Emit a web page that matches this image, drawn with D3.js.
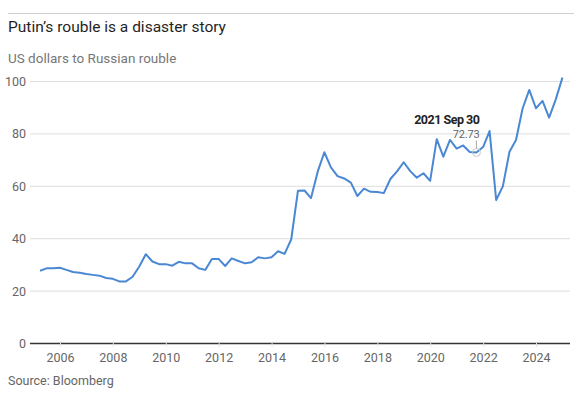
<!DOCTYPE html>
<html>
<head>
<meta charset="utf-8">
<title>Putin's rouble is a disaster story</title>
<style>
  body { margin: 0; background: #fff; }
  svg { display: block; }
  .title { font-family: Roboto, "Liberation Sans", sans-serif; font-size: 15.5px; fill: #1f1f1f; }
  .subtitle { font-family: Roboto, "Liberation Sans", sans-serif; font-size: 13.5px; fill: #777; }
  .tick text { font-family: Roboto, sans-serif; font-size: 12.5px; fill: #666; }
  .source { font-family: Roboto, "Liberation Sans", sans-serif; font-size: 12.5px; fill: #666; }
</style>
</head>
<body>
<script src="https://cdn.jsdelivr.net/npm/d3@7"></script>
<script>

// quarter-end USD/RUB, one row per year (Mar, Jun, Sep, Dec)
var years = [2005, 2006, 2007, 2008, 2009, 2010, 2011, 2012, 2013, 2014,
             2015, 2016, 2017, 2018, 2019, 2020, 2021, 2022, 2023, 2024];
var rates = [
  [27.6, 28.5, 28.5, 28.7],
  [27.9, 27.1, 26.8, 26.3],
  [26.0, 25.7, 24.8, 24.5],
  [23.5, 23.5, 25.3, 29.2],
  [33.9, 31.1, 30.1, 30.1],
  [29.5, 31.0, 30.4, 30.4],
  [28.5, 27.9, 32.1, 32.1],
  [29.4, 32.3, 31.3, 30.4],
  [30.8, 32.7, 32.3, 32.7],
  [35.0, 34.0, 39.6, 58.1],
  [58.2, 55.3, 65.4, 72.8],
  [67.0, 63.7, 62.8, 61.2],
  [56.1, 58.9, 57.7, 57.6],
  [57.2, 62.6, 65.5, 69.0],
  [65.6, 63.1, 64.8, 61.9],
  [77.8, 71.1, 77.5, 74.2],
  [75.4, 72.9, 72.73, 74.8],
  [80.9, 54.6, 59.8, 73.0],
  [77.5, 89.5, 96.6, 89.6],
  [92.4, 86.0, 93.0, 101.3]
];
var yTicks = [0, 20, 40, 60, 80, 100];
var xTickYears = [2006, 2008, 2010, 2012, 2014, 2016, 2018, 2020, 2022, 2024];
var note = { date: "2021-09-30", label: "2021 Sep 30", value: 72.73 };

var width = 580, height = 397;
var plotLeft = 30, plotRight = 570;

var data = [];
years.forEach(function(yr, i) {
  rates[i].forEach(function(v, q) {
    data.push({ date: new Date(yr, q * 3 + 3, 0), value: v });
  });
});

var x = d3.scaleTime()
    .domain([new Date(2006, 0, 1), new Date(2024, 0, 1)])
    .range([60, 536]);

var y = d3.scaleLinear()
    .domain([0, 100])
    .range([343, 81]);

var svg = d3.select("body").append("svg")
    .attr("width", width)
    .attr("height", height);

// top rule
svg.append("line")
    .attr("x1", 8).attr("x2", 574)
    .attr("y1", 13.5).attr("y2", 13.5)
    .attr("stroke", "#cfcfcf")
    .attr("stroke-width", 1);

svg.append("text")
    .attr("class", "title")
    .attr("x", 8).attr("y", 32)
    .text("Putin\u2019s rouble is a disaster story");

svg.append("text")
    .attr("class", "subtitle")
    .attr("x", 8).attr("y", 63)
    .text("US dollars to Russian rouble");

// y axis with gridlines
var yAxis = svg.append("g")
    .attr("transform", "translate(" + plotRight + ",0)")
    .call(d3.axisLeft(y).tickValues(yTicks).tickSize(plotRight - plotLeft).tickPadding(4));
yAxis.select(".domain").remove();
yAxis.selectAll(".tick line")
    .attr("stroke", function(d) { return d === 0 ? "#333" : "#dedede"; })
    .attr("stroke-width", function(d) { return d === 0 ? 1.3 : 1; });
yAxis.selectAll(".tick text").attr("dy", "0.36em");

// x axis
var xAxis = svg.append("g")
    .attr("transform", "translate(0," + y(0) + ")")
    .call(d3.axisBottom(x)
      .tickValues(xTickYears.map(function(yr) { return new Date(yr, 0, 1); }))
      .tickFormat(d3.timeFormat("%Y"))
      .tickSize(4)
      .tickPadding(6));
xAxis.select(".domain").remove();
xAxis.selectAll(".tick line").attr("stroke", "#e4e4e4");

// the line
var line = d3.line()
    .x(function(d) { return x(d.date); })
    .y(function(d) { return y(d.value); });

svg.append("path")
    .datum(data)
    .attr("fill", "none")
    .attr("stroke", "#4a88d4")
    .attr("stroke-width", 2)
    .attr("stroke-linejoin", "round")
    .attr("d", line);

// annotation
var nd = d3.timeParse("%Y-%m-%d")(note.date);
var nx = x(nd), ny = y(note.value);

svg.append("circle")
    .attr("cx", nx).attr("cy", ny)
    .attr("r", 4)
    .attr("fill", "none")
    .attr("stroke", "#c8c8c8")
    .attr("stroke-width", 1);

svg.append("line")
    .attr("x1", nx).attr("x2", nx)
    .attr("y1", ny - 12).attr("y2", ny - 4)
    .attr("stroke", "#aaa")
    .attr("stroke-width", 1);

svg.append("text")
    .attr("x", nx + 3).attr("y", ny - 28)
    .attr("text-anchor", "end")
    .style("font-family", "Roboto, sans-serif")
    .style("font-weight", "bold")
    .style("font-size", "12.5px")
    .style("letter-spacing", "-0.5px")
    .style("fill", "#222")
    .text(note.label);

svg.append("text")
    .attr("x", nx + 3).attr("y", ny - 14.5)
    .attr("text-anchor", "end")
    .style("font-family", "Roboto, sans-serif")
    .style("font-size", "11px")
    .style("letter-spacing", "-0.2px")
    .style("fill", "#666")
    .text(d3.format(".2f")(note.value));

svg.append("text")
    .attr("class", "source")
    .attr("x", 8).attr("y", 385)
    .text("Source: Bloomberg");

</script>
</body>
</html>
